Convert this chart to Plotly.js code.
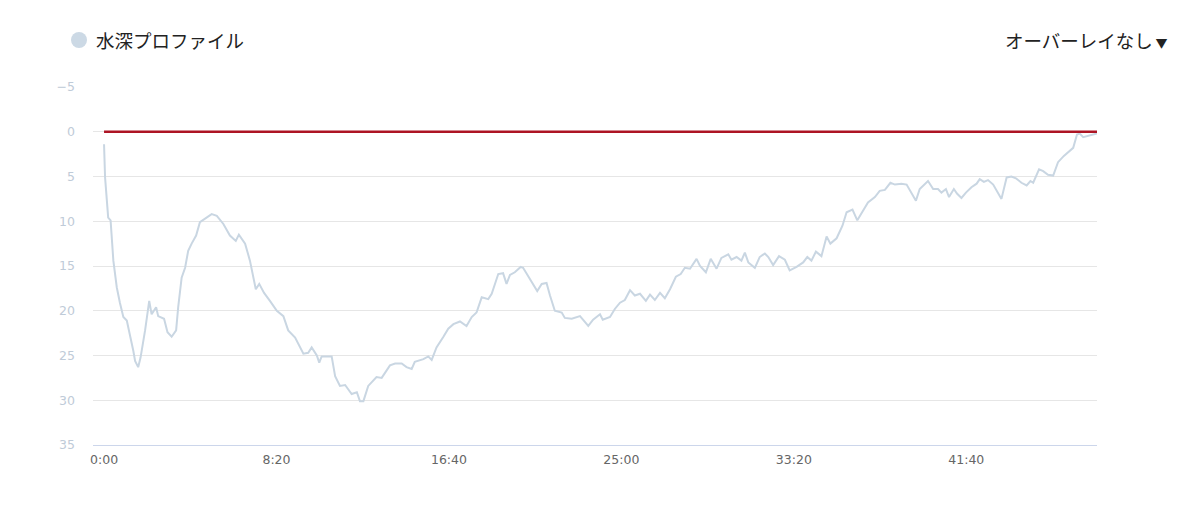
<!DOCTYPE html>
<html>
<head>
<meta charset="utf-8">
<script src="https://cdn.plot.ly/plotly-3.0.1.min.js"></script>
<style>
html,body{margin:0;padding:0;background:#fff;}
#chart{width:1200px;height:506px;}
</style>
</head>
<body>
<div id="chart"></div>
<script>
// elapsed time (seconds) and depth (m)
const times = [
  0,3,12,19,27,37,46,56,66,75,85,90,99,106,119,131,138,151,157,174,
  184,196,209,215,225,235,244,254,267,278,293,312,327,346,365,382,391,409,423,440,
  450,464,481,501,520,534,554,578,592,602,617,624,631,660,670,684,699,718,733,742,
  752,766,790,805,829,844,863,877,892,901,926,940,950,964,984,998,1013,1032,1051,1066,
  1080,1095,1114,1124,1143,1157,1167,1177,1191,1208,1215,1240,1256,1269,1283,1293,1307,1327,1336,1356,
  1375,1380,1404,1418,1438,1446,1467,1481,1496,1510,1525,1539,1554,1571,1583,1597,1612,1626,1641,1658,
  1672,1684,1699,1718,1728,1745,1759,1776,1790,1810,1819,1834,1848,1858,1868,1887,1901,1916,1926,1940,
  1957,1974,1988,2008,2027,2039,2051,2064,2080,2095,2106,2124,2141,2153,2170,2184,2201,2215,2235,2249,
  2264,2280,2293,2312,2327,2338,2354,2365,2389,2404,2418,2428,2441,2450,2464,2473,2486,2499,2515,2530,
  2539,2551,2563,2578,2592,2602,2617,2631,2644,2660,2675,2686,2694,2711,2723,2737,2752,2766,2783,2800,
  2810,2821,2829,2839,2858,2873,2879
];
const depths = [
  1.4,5.1,9.6,9.9,14.4,17.4,19.1,20.7,21.1,22.6,24.5,25.6,26.3,25.2,22.2,18.9,20.4,19.6,20.6,20.9,
  22.4,22.9,22.2,19.6,16.3,15.2,13.3,12.5,11.6,10.1,9.7,9.2,9.4,10.3,11.6,12.2,11.5,12.5,14.4,17.6,
  17.0,18.0,18.9,20.0,20.6,22.2,23.0,24.8,24.7,24.1,25.0,25.8,25.1,25.1,27.3,28.4,28.3,29.3,29.1,30.1,
  30.1,28.4,27.4,27.5,26.1,25.9,25.9,26.3,26.5,25.7,25.4,25.1,25.5,24.1,22.9,22.0,21.5,21.2,21.7,20.7,
  20.2,18.5,18.7,18.1,15.9,15.8,17.0,16.0,15.7,15.1,15.2,16.8,17.8,17.0,16.9,18.3,20.0,20.2,20.8,20.9,
  20.7,20.6,21.7,21.0,20.4,21.0,20.7,19.8,19.1,18.8,17.7,18.3,18.1,18.9,18.2,18.8,18.0,18.6,17.6,16.2,
  15.9,15.2,15.3,14.2,15.0,15.7,14.2,15.3,14.1,13.7,14.3,14.0,14.4,13.5,14.6,15.2,14.0,13.6,14.0,14.9,
  13.9,14.3,15.5,15.1,14.6,14.0,14.4,13.4,13.9,11.7,12.5,11.9,10.5,9.0,8.7,9.9,8.8,7.9,7.3,6.6,
  6.5,5.7,5.9,5.8,5.9,6.6,7.7,6.4,5.5,6.4,6.4,6.8,6.4,7.3,6.4,6.9,7.4,6.8,6.2,5.8,
  5.3,5.6,5.4,5.9,6.8,7.5,5.1,5.0,5.2,5.7,6.0,5.5,5.7,4.2,4.4,4.8,4.9,3.4,2.7,2.1,
  1.8,0.3,0.2,0.6,0.4,0.3,0.2
];
const surfaceDepth = 0;
const xTickVals = [0, 500, 1000, 1500, 2000, 2500];
const xTickText = ['0:00', '8:20', '16:40', '25:00', '33:20', '41:40'];
const yTickVals = [-5, 0, 5, 10, 15, 20, 25, 30, 35];
const seriesName = '水深プロファイル';
const overlayLabel = 'オーバーレイなし';

const FONT = '"Noto Sans CJK JP", "Noto Sans", "DejaVu Sans", sans-serif';
const TICKFONT = '"DejaVu Sans", "Noto Sans", sans-serif';

const traces = [
  {
    x: times, y: depths, type: 'scatter', mode: 'lines',
    name: seriesName,
    line: {color: '#c9d6e2', width: 2},
    hoverinfo: 'skip', showlegend: false
  },
  {
    x: [times[0], times[times.length - 1]], y: [surfaceDepth, surfaceDepth],
    type: 'scatter', mode: 'lines',
    line: {color: '#ad1424', width: 2.5},
    hoverinfo: 'skip', showlegend: false
  }
];

const layout = {
  width: 1200, height: 506,
  margin: {l: 93, r: 103, t: 87, b: 61, pad: 0},
  paper_bgcolor: '#ffffff', plot_bgcolor: '#ffffff',
  font: {family: FONT, size: 13, color: '#666666'},
  showlegend: false,
  xaxis: {
    range: [-32, 2879],
    tickvals: xTickVals, ticktext: xTickText,
    showgrid: false, zeroline: false,
    showline: true, linecolor: '#ccd6eb', linewidth: 1,
    ticks: '', ticklabelstandoff: 3,
    tickfont: {family: TICKFONT, size: 12.5, color: '#666666'},
    fixedrange: true
  },
  yaxis: {
    range: [35, -5],
    tickvals: yTickVals,
    showgrid: true, gridcolor: '#e6e6e6', gridwidth: 1,
    zeroline: false, showline: false, ticks: '',
    ticklabelstandoff: 17,
    tickfont: {family: TICKFONT, size: 12.5, color: '#bfcbd8'},
    fixedrange: true
  },
  shapes: [
    {
      type: 'circle', xref: 'paper', yref: 'paper',
      xsizemode: 'pixel', ysizemode: 'pixel',
      xanchor: (79 - 93) / 1004, yanchor: (445 - 40) / 358,
      x0: -8, x1: 8, y0: -8, y1: 8,
      fillcolor: '#ccd9e5', line: {width: 0}
    }
  ],
  annotations: [
    {
      xref: 'paper', yref: 'paper',
      x: (94 - 93) / 1004, y: (445 - 40) / 358,
      xanchor: 'left', yanchor: 'middle', showarrow: false,
      text: seriesName,
      font: {family: FONT, size: 18.5, color: '#222222'}
    },
    {
      xref: 'paper', yref: 'paper',
      x: (1170 - 93) / 1004, y: (445 - 40) / 358,
      xanchor: 'right', yanchor: 'middle', showarrow: false,
      text: overlayLabel + '<span style="font-size:12px"> ▼</span>',
      font: {family: FONT, size: 18.5, color: '#222222'}
    }
  ]
};

Plotly.newPlot('chart', traces, layout, {displayModeBar: false, staticPlot: true});
</script>
</body>
</html>
